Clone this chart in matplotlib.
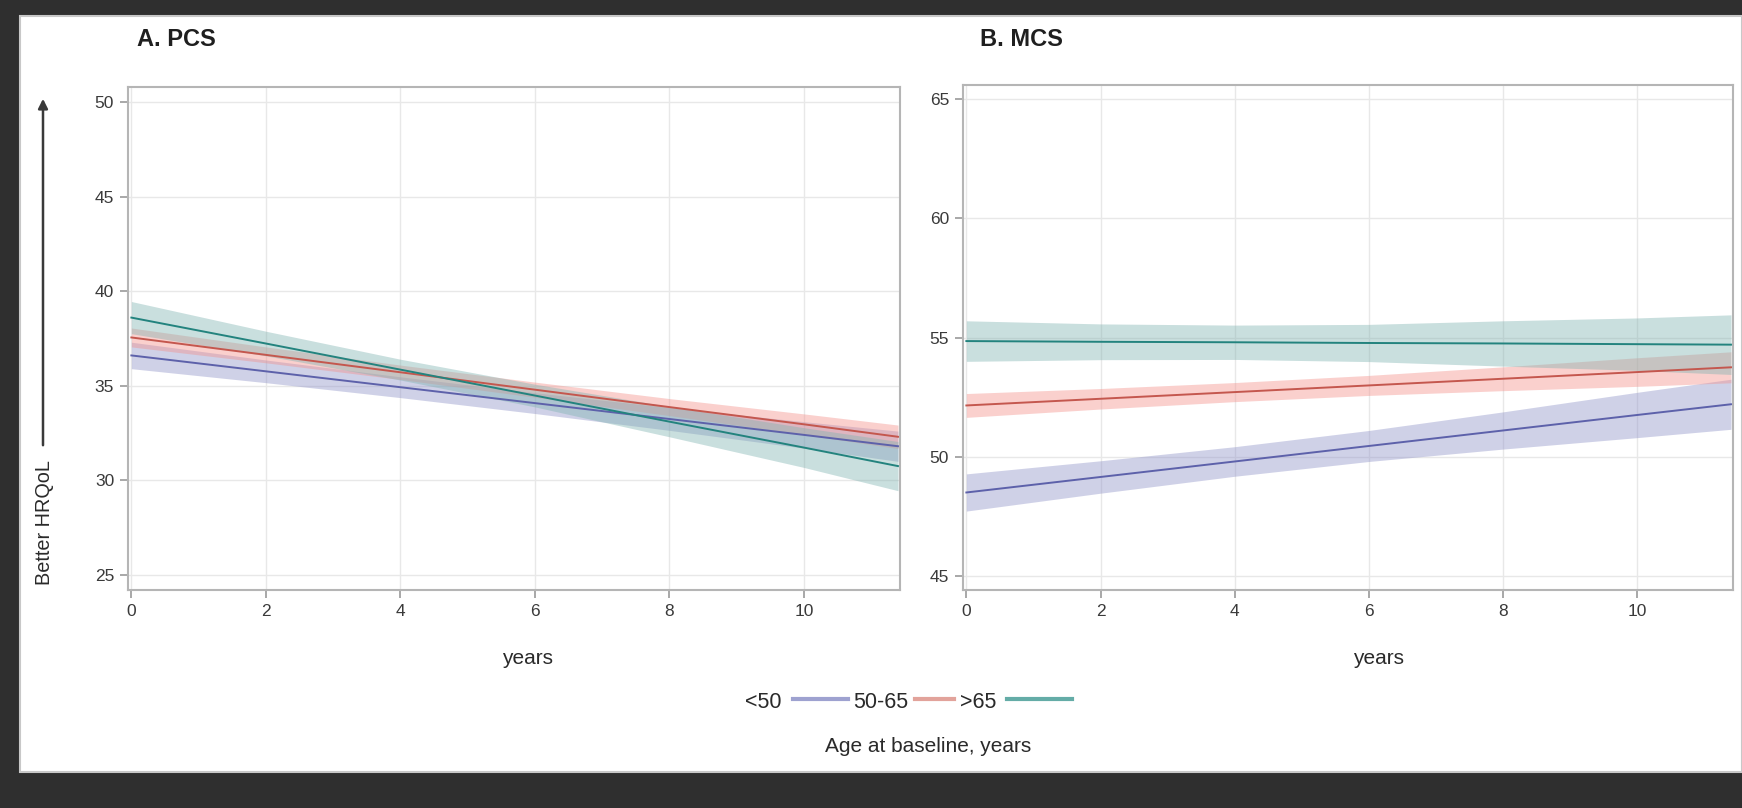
import numpy as np
import matplotlib
matplotlib.use('Agg')
import matplotlib.pyplot as plt
from matplotlib.patches import Rectangle, FancyArrowPatch
from matplotlib.lines import Line2D

plt.rcParams['font.family'] = ['Liberation Sans', 'DejaVu Sans']

# follow-up time (years) where the curves are read
anos = [0, 2, 4, 6, 8, 10, 11.4]

grupos = ['<50', '50-65', '>65']

# A. PCS - média ajustada e limites do IC 95%
pcs_media = {
    '<50':   [36.6, 35.76, 34.92, 34.08, 33.24, 32.4, 31.8],
    '50-65': [37.55, 36.63, 35.71, 34.79, 33.87, 32.96, 32.3],
    '>65':   [38.6, 37.23, 35.85, 34.48, 33.1, 31.73, 30.75],
}
pcs_inf = {
    '<50':   [35.9, 35.16, 34.37, 33.53, 32.64, 31.7, 31.0],
    '50-65': [37.05, 36.21, 35.33, 34.39, 33.42, 32.41, 31.68],
    '>65':   [37.75, 36.58, 35.3, 33.88, 32.3, 30.68, 29.45],
}
pcs_sup = {
    '<50':   [37.3, 36.36, 35.47, 34.63, 33.84, 33.1, 32.6],
    '50-65': [38.05, 37.05, 36.09, 35.19, 34.32, 33.51, 32.92],
    '>65':   [39.45, 37.88, 36.4, 35.08, 33.9, 32.78, 32.05],
}

# B. MCS
mcs_media = {
    '<50':   [48.5, 49.15, 49.8, 50.45, 51.1, 51.75, 52.2],
    '50-65': [52.15, 52.43, 52.71, 52.99, 53.27, 53.55, 53.75],
    '>65':   [54.85, 54.82, 54.8, 54.77, 54.75, 54.72, 54.7],
}
mcs_inf = {
    '<50':   [47.72, 48.47, 49.18, 49.8, 50.32, 50.8, 51.15],
    '50-65': [51.65, 52.0, 52.31, 52.57, 52.77, 52.95, 53.1],
    '>65':   [54.0, 54.07, 54.08, 53.99, 53.8, 53.62, 53.45],
}
mcs_sup = {
    '<50':   [49.28, 49.83, 50.42, 51.1, 51.88, 52.7, 53.25],
    '50-65': [52.65, 52.86, 53.11, 53.41, 53.77, 54.15, 54.4],
    '>65':   [55.7, 55.57, 55.52, 55.55, 55.7, 55.82, 55.95],
}

cor_linha = {'<50': '#5d61aa', '50-65': '#c4574e', '>65': '#23837e'}
cor_banda = {'<50': '#8e92c8', '50-65': '#f4908a', '>65': '#7fb3b1'}
cor_legenda = {'<50': '#9ea2d0', '50-65': '#e2a39b', '>65': '#64aca7'}

W, H = 1742, 808
fig = plt.figure(figsize=(W / 100, H / 100), dpi=100, facecolor='#2f2f2f')

# painel branco sobre o fundo escuro (atrás dos eixos)
fig.patches.append(Rectangle((20 / W, 1 - 772 / H), 1 - 20 / W, (772 - 16) / H,
                             transform=fig.transFigure, facecolor='white',
                             edgecolor='#c8c8c8', linewidth=1.5, zorder=-10))

def px(x, y):
    return x / W, 1 - y / H

def desenha(ax, media, inf, sup, ylim, yticks):
    ax.set_facecolor('white')
    for g in grupos:
        ax.fill_between(anos, inf[g], sup[g], color=cor_banda[g], alpha=0.42,
                        linewidth=0, zorder=2)
    for g in grupos:
        ax.plot(anos, media[g], color=cor_linha[g], lw=1.4, zorder=3)
    ax.set_xlim(-0.05, 11.43)
    ax.set_ylim(*ylim)
    ax.set_xticks([0, 2, 4, 6, 8, 10])
    ax.set_yticks(yticks)
    ax.grid(True, color='#e8e8e8', lw=1.0, zorder=0)
    ax.set_axisbelow(True)
    for s in ax.spines.values():
        s.set_color('#b5b5b5')
        s.set_linewidth(1.5)
    ax.tick_params(colors='#9a9a9a', labelcolor='#3a3a3a', labelsize=12.5,
                   length=6, width=1.2, pad=4)

ax1 = fig.add_axes([128 / W, 1 - 590 / H, 772 / W, 503 / H])
desenha(ax1, pcs_media, pcs_inf, pcs_sup, (24.2, 50.79), [25, 30, 35, 40, 45, 50])

ax2 = fig.add_axes([963 / W, 1 - 590 / H, 770 / W, 505 / H])
desenha(ax2, mcs_media, mcs_inf, mcs_sup, (44.41, 65.59), [45, 50, 55, 60, 65])

# títulos dos painéis
fig.text(*px(137, 39), 'A. PCS', fontsize=17, fontweight='bold', color='#1f1f1f',
         ha='left', va='center')
fig.text(*px(980, 39), 'B. MCS', fontsize=17, fontweight='bold', color='#1f1f1f',
         ha='left', va='center')

# rótulos do eixo x
fig.text(*px(528, 659), 'years', fontsize=15, color='#2a2a2a', ha='center', va='center')
fig.text(*px(1379, 659), 'years', fontsize=15, color='#2a2a2a', ha='center', va='center')

# seta "Better HRQoL"
fig.patches.append(FancyArrowPatch(px(43, 448), px(43, 96), transform=fig.transFigure,
                                   arrowstyle='-|>', mutation_scale=14,
                                   color='#3a3a3a', lw=1.8))
fig.text(*px(45, 523), 'Better HRQoL', fontsize=14.3, color='#2a2a2a', rotation=90,
         ha='center', va='center')

# legenda manual: rótulo seguido da linha
itens = [('<50', 745, 793, 848), ('50-65', 853, 915, 954), ('>65', 960, 1007, 1072)]
for g, xt, x0, x1 in itens:
    fig.text(*px(xt, 702), g, fontsize=15.5, color='#2a2a2a', ha='left', va='center')
    fig.lines.append(Line2D([x0 / W, x1 / W], [1 - 699 / H, 1 - 699 / H],
                            transform=fig.transFigure, color=cor_legenda[g], lw=3))
fig.text(*px(928, 747), 'Age at baseline, years', fontsize=15, color='#2a2a2a',
         ha='center', va='center')

fig.savefig('out.png', dpi=100, facecolor=fig.get_facecolor())
